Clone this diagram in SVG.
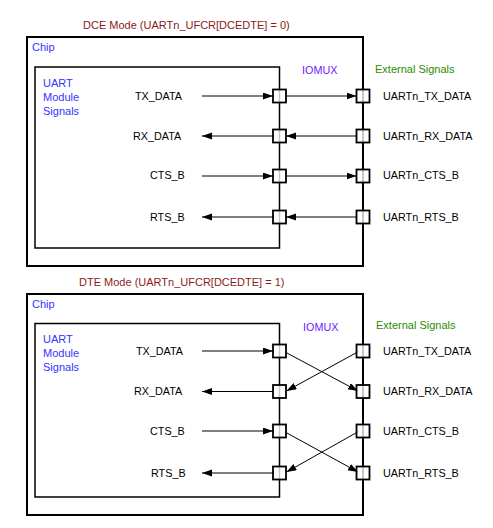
<svg xmlns="http://www.w3.org/2000/svg" width="493" height="528" viewBox="0 0 493 528">
<defs>
<marker id="ah" markerWidth="10" markerHeight="8" refX="10" refY="3.5" orient="auto" markerUnits="userSpaceOnUse">
<path d="M0,0 L10,3.5 L0,7 z" fill="#000"/>
</marker>
<style>
text{font-family:"Liberation Sans",Arial,sans-serif;font-size:10.8px;fill:#000}
.title{fill:#8b1a1a;font-size:11px}
.blue{fill:#3333ff;font-size:11px}
.iomux{fill:#6a1aff;font-size:10.8px}
.ext{fill:#2e8b00;font-size:11px}
.outer{fill:none;stroke:#000;stroke-width:2}
.inner{fill:none;stroke:#000;stroke-width:1.5}
.pad{fill:#fff;fill-opacity:0.78;stroke:#000;stroke-width:1.8}
.wire{fill:none;stroke:#000;stroke-width:1;marker-end:url(#ah)}
</style>
</defs>
<rect width="493" height="528" fill="#fff"/>

<!-- DCE -->
<g id="dce">
<text class="title" x="83" y="29">DCE Mode (UARTn_UFCR[DCEDTE] = 0)</text>
<g id="dce-chip">
<rect class="outer" x="27" y="37" width="336" height="229"/>
<text class="blue" x="32" y="50.5">Chip</text>
</g>
<g id="dce-uart">
<path class="inner" d="M279.5,248 H35 V67 H279.5 Z"/>
<text class="blue" x="43" y="87">UART</text>
<text class="blue" x="43" y="101">Module</text>
<text class="blue" x="43" y="115">Signals</text>
</g>
<text class="iomux" x="302" y="74">IOMUX</text>
<text class="ext" x="375" y="72.5">External Signals</text>
<g id="dce-labels">
<text x="135" y="99.5">TX_DATA</text>
<text x="133" y="139.5">RX_DATA</text>
<text x="150" y="179">CTS_B</text>
<text x="150" y="220.5">RTS_B</text>
<text x="383" y="99.5">UARTn_TX_DATA</text>
<text x="383" y="139.5">UARTn_RX_DATA</text>
<text x="383" y="179">UARTn_CTS_B</text>
<text x="383" y="220.5">UARTn_RTS_B</text>
</g>
<g id="dce-connectors">
<path class="wire" d="M202,96 H273"/>
<path class="wire" d="M286,96 H356.5"/>
<path class="wire" d="M356.5,136 H286"/>
<path class="wire" d="M273,136 H202"/>
<path class="wire" d="M202,176 H273"/>
<path class="wire" d="M286,176 H356.5"/>
<path class="wire" d="M356.5,217 H286"/>
<path class="wire" d="M273,217 H202"/>
</g>
<g id="dce-pads">
<rect class="pad" x="273" y="89.5" width="13" height="13"/>
<rect class="pad" x="356.5" y="89.5" width="13" height="13"/>
<rect class="pad" x="273" y="129.5" width="13" height="13"/>
<rect class="pad" x="356.5" y="129.5" width="13" height="13"/>
<rect class="pad" x="273" y="169.5" width="13" height="13"/>
<rect class="pad" x="356.5" y="169.5" width="13" height="13"/>
<rect class="pad" x="273" y="210.5" width="13" height="13"/>
<rect class="pad" x="356.5" y="210.5" width="13" height="13"/>
</g>
</g>

<!-- DTE -->
<g id="dte">
<text class="title" x="79" y="286">DTE Mode (UARTn_UFCR[DCEDTE] = 1)</text>
<g id="dte-chip">
<rect class="outer" x="27" y="294" width="336" height="221"/>
<text class="blue" x="32" y="307.5">Chip</text>
</g>
<g id="dte-uart">
<path class="inner" d="M279.5,497 H35 V323.5 H279.5 Z"/>
<text class="blue" x="43" y="343">UART</text>
<text class="blue" x="43" y="357">Module</text>
<text class="blue" x="43" y="371">Signals</text>
</g>
<text class="iomux" x="303" y="331">IOMUX</text>
<text class="ext" x="376" y="328.5">External Signals</text>
<g id="dte-labels">
<text x="136" y="354.5">TX_DATA</text>
<text x="134" y="395">RX_DATA</text>
<text x="150" y="434.5">CTS_B</text>
<text x="151" y="476.5">RTS_B</text>
<text x="383" y="354.5">UARTn_TX_DATA</text>
<text x="383" y="395">UARTn_RX_DATA</text>
<text x="383" y="434.5">UARTn_CTS_B</text>
<text x="383" y="476.5">UARTn_RTS_B</text>
</g>
<g id="dte-connectors">
<path class="wire" d="M202,351 H273"/>
<path class="wire" d="M273,391.5 H202"/>
<path class="wire" d="M286,352.5 L358,391"/>
<path class="wire" d="M358.5,351.5 L286.5,391"/>
<path class="wire" d="M202,431 H273"/>
<path class="wire" d="M273,473 H202"/>
<path class="wire" d="M286,432.5 L358,472"/>
<path class="wire" d="M358.5,431.5 L286.5,472"/>
</g>
<g id="dte-pads">
<rect class="pad" x="273" y="344.5" width="13" height="13"/>
<rect class="pad" x="356.5" y="344.5" width="13" height="13"/>
<rect class="pad" x="273" y="385" width="13" height="13"/>
<rect class="pad" x="356.5" y="385" width="13" height="13"/>
<rect class="pad" x="273" y="424.5" width="13" height="13"/>
<rect class="pad" x="356.5" y="424.5" width="13" height="13"/>
<rect class="pad" x="273" y="466.5" width="13" height="13"/>
<rect class="pad" x="356.5" y="466.5" width="13" height="13"/>
</g>
</g>
</svg>
